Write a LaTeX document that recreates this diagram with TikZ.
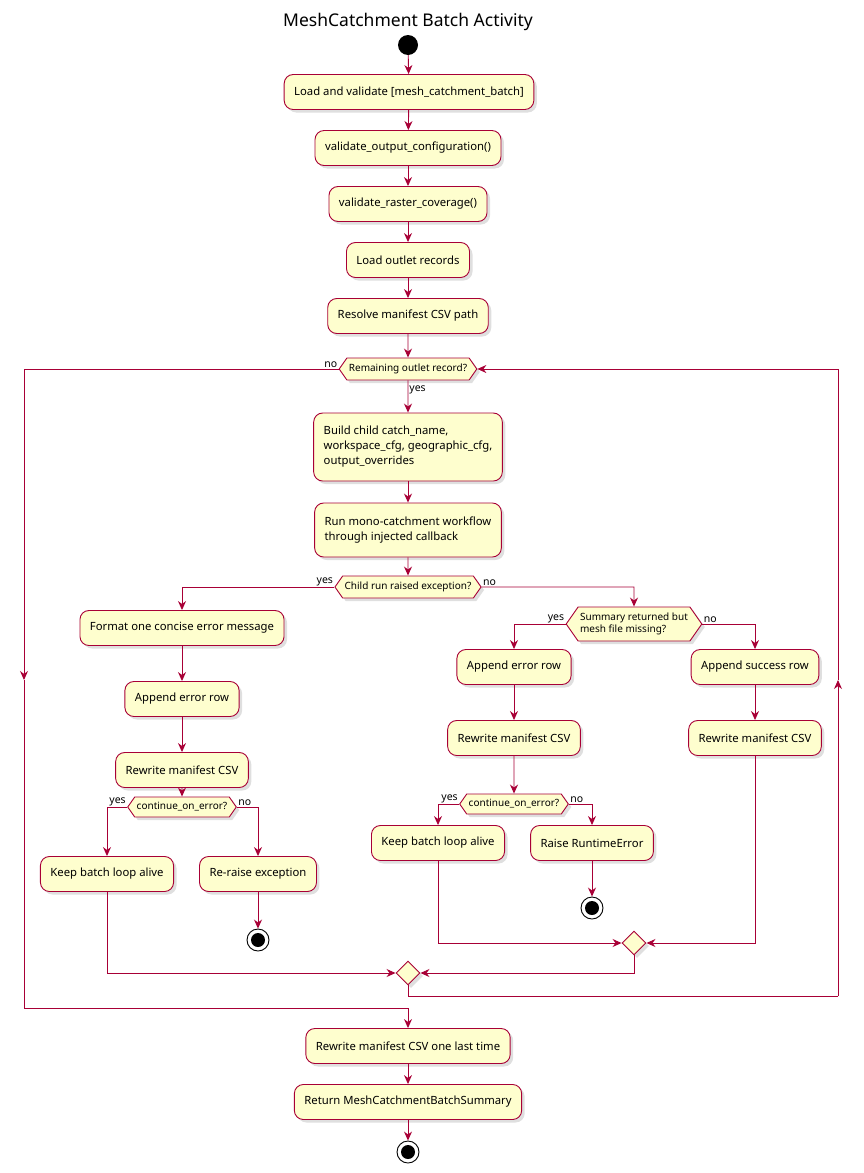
\documentclass[tikz,border=0pt]{standalone}
\usepackage{fontspec}
\setmainfont{Noto Sans}
\usetikzlibrary{arrows.meta,shapes.symbols,shapes.geometric,shadows}
\definecolor{bfill}{HTML}{FEFECE}
\definecolor{bline}{HTML}{A80036}
\begin{document}
\begin{tikzpicture}[x=1pt,y=-1pt,
  act/.style={draw=bline,fill=bfill,rounded corners=9pt,line width=0.9pt,minimum height=35pt,inner xsep=10pt,align=left,font=\fontsize{11.3}{15}\selectfont,drop shadow={shadow xshift=3pt,shadow yshift=-3pt,opacity=0.25}},
  dec/.style={draw=bline,fill=bfill,line width=0.9pt,shape=signal,signal to=east and west,signal pointer angle=110,inner xsep=2pt,inner ysep=2pt,minimum height=22pt,align=left,font=\fontsize{10}{12}\selectfont,drop shadow={shadow xshift=3pt,shadow yshift=-3pt,opacity=0.25}},
  mrg/.style={draw=bline,fill=bfill,line width=0.9pt,shape=diamond,minimum size=24pt,inner sep=0pt,drop shadow={shadow xshift=3pt,shadow yshift=-3pt,opacity=0.25}},
  arr/.style={draw=bline,line width=0.9pt,-{Stealth[length=9pt,width=8pt]}},
  ln/.style={draw=bline,line width=0.9pt},
  lbl/.style={font=\fontsize{10.5}{12}\selectfont,inner sep=1pt},
  startn/.style={circle,fill=black,minimum size=20pt,inner sep=0pt},
  endn/.style={circle,draw=black,line width=0.9pt,fill=white,minimum size=22pt,inner sep=0pt,path picture={\fill[black] (path picture bounding box.center) circle (7pt);}}
]
\useasboundingbox (0,0) rectangle (863,1173);
\node[font=\fontsize{17.5}{20}\selectfont] (title) at (408,22) {MeshCatchment Batch Activity};
\node[startn] (s) at (408,45) {};
\node[act] (a1) at (409,92) {Load and validate [mesh\_catchment\_batch]};
\node[act] (a2) at (408,148) {validate\_output\_configuration()};
\node[act] (a3) at (408,204) {validate\_raster\_coverage()};
\node[act] (a4) at (408,260) {Load outlet records};
\node[act] (a5) at (408,316) {Resolve manifest CSV path};
\node[dec] (d1) at (408,369) {Remaining outlet record?};
\node[act,minimum height=68pt] (a6) at (408,447) {Build child catch\_name,\\workspace\_cfg, geographic\_cfg,\\output\_overrides};
\node[act,minimum height=54pt] (a7) at (408,530) {Run mono-catchment workflow\\through injected callback};
\node[dec] (d2) at (408,587) {Child run raised exception?};
\node[act] (l1) at (182,628) {Format one concise error message};
\node[act] (l2) at (182,699) {Append error row};
\node[act] (l3) at (182,770) {Rewrite manifest CSV};
\node[dec,minimum height=20pt] (d3) at (182,807) {continue\_on\_error?};
\node[act] (l4) at (107,874) {Keep batch loop alive};
\node[act] (l5) at (258,874) {Re-raise exception};
\node[endn] (e1) at (258,940) {};
\node[dec,minimum height=34pt] (d4) at (634,624) {Summary returned but\\mesh file missing?};
\node[act] (r1) at (514,667) {Append error row};
\node[act] (r2) at (514,738) {Rewrite manifest CSV};
\node[dec,minimum height=20pt] (d5) at (514,804) {continue\_on\_error?};
\node[act] (r3) at (438,843) {Keep batch loop alive};
\node[act] (r4) at (592,843) {Raise RuntimeError};
\node[endn] (e2) at (592,908) {};
\node[act] (r5) at (755,667) {Append success row};
\node[act] (r6) at (755,738) {Rewrite manifest CSV};
\node[mrg] (m1) at (634,943) {};
\node[mrg] (m2) at (408,973) {};
\node[act] (b1) at (408,1046) {Rewrite manifest CSV one last time};
\node[act] (b2) at (408,1102) {Return MeshCatchmentBatchSummary};
\node[endn] (e3) at (408,1152) {};
\coordinate (lc) at (24,1008);
\coordinate (rc) at (838,996);

\draw[arr] (s) -- (a1);
\draw[arr] (a1) -- (a2);
\draw[arr] (a2) -- (a3);
\draw[arr] (a3) -- (a4);
\draw[arr] (a4) -- (a5);
\draw[arr] (a5) -- (d1);
\draw[arr] (d1) -- node[lbl,right,pos=0.3]{yes} (a6);
\draw[arr] (a6) -- (a7);
\draw[arr] (a7) -- (d2);
\draw[arr] (d2.west) -- (182,587) node[lbl,pos=0,above left]{yes} -- (l1);
\draw[arr] (d2.east) -- (634,587) node[lbl,pos=0,above right]{no} -- (d4);
\draw[arr] (l1) -- (l2);
\draw[arr] (l2) -- (l3);
\draw[arr] (l3) -- (d3);
\draw[arr] (d3.west) -- (107,807) node[lbl,pos=0,above left]{yes} -- (l4);
\draw[arr] (d3.east) -- (258,807) node[lbl,pos=0,above right]{no} -- (l5);
\draw[arr] (l5) -- (e1);
\draw[arr] (d4.west) -- (514,624) node[lbl,pos=0,above left]{yes} -- (r1);
\draw[arr] (d4.east) -- (755,624) node[lbl,pos=0,above right]{no} -- (r5);
\draw[arr] (r1) -- (r2);
\draw[arr] (r2) -- (d5);
\draw[arr] (d5.west) -- (438,804) node[lbl,pos=0,above left]{yes} -- (r3);
\draw[arr] (d5.east) -- (592,804) node[lbl,pos=0,above right]{no} -- (r4);
\draw[arr] (r4) -- (e2);
\draw[arr] (r5) -- (r6);
\draw[arr] (r3) |- (m1);
\draw[arr] (r6) |- (m1);
\draw[arr] (m1) |- (m2);
\draw[arr] (l4) |- (m2);
\draw[ln] (m2) |- (rc);
\draw[arr] (rc) -- (838,680);
\draw[arr] (838,680) |- (d1.east);
\draw[arr] (d1.west) node[lbl,above left]{no} -| (24,680);
\draw[ln] (24,680) -- (lc) -| (408,1020);
\draw[arr] (408,1008) -- (b1);
\draw[arr] (b1) -- (b2);
\draw[arr] (b2) -- (e3);
\end{tikzpicture}
\end{document}
